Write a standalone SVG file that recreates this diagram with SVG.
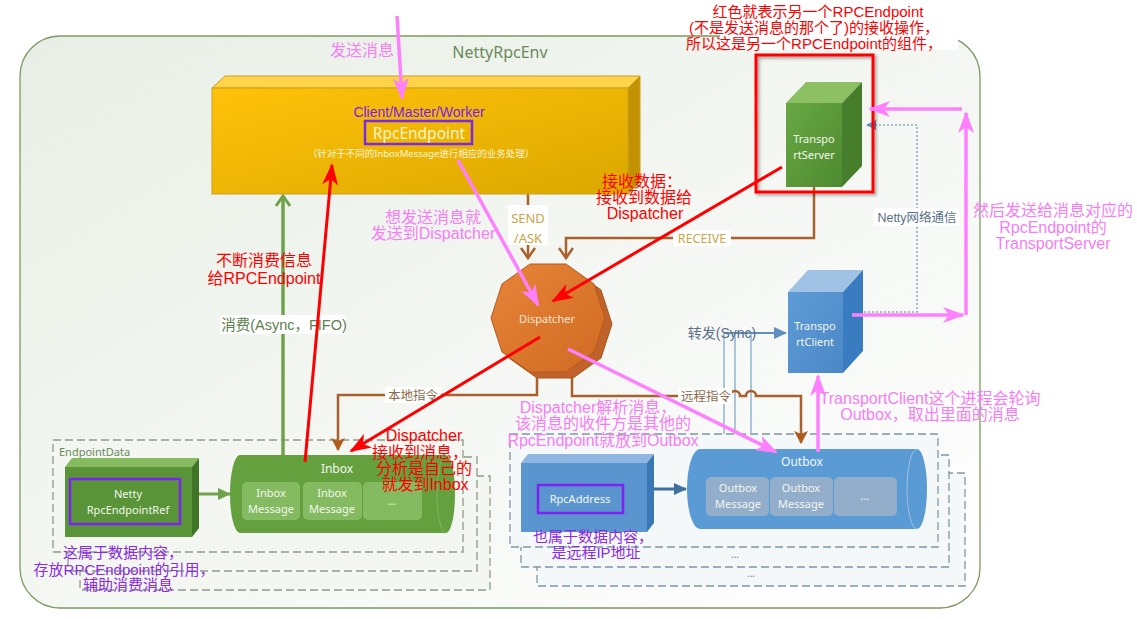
<svg xmlns="http://www.w3.org/2000/svg" width="1137" height="619" viewBox="0 0 1137 619">
<defs>
<linearGradient id="bg" x1="0" y1="0" x2="1" y2="1"><stop offset="0" stop-color="#e8eee5"/><stop offset="1" stop-color="#ffffff"/></linearGradient>
<linearGradient id="yel" x1="0" y1="0" x2="1" y2="1"><stop offset="0" stop-color="#ffc20a"/><stop offset="1" stop-color="#dba800"/></linearGradient>
<linearGradient id="grn" x1="0" y1="0" x2="1" y2="1"><stop offset="0" stop-color="#68a843"/><stop offset="1" stop-color="#4e8a30"/></linearGradient>
<linearGradient id="blu" x1="0" y1="0" x2="1" y2="1"><stop offset="0" stop-color="#5f9bd6"/><stop offset="1" stop-color="#4a88c6"/></linearGradient>
<linearGradient id="org" x1="0" y1="0" x2="1" y2="1"><stop offset="0" stop-color="#e8843a"/><stop offset="1" stop-color="#d06a22"/></linearGradient>
<filter id="sh" x="-10%" y="-10%" width="130%" height="130%"><feDropShadow dx="2" dy="2" stdDeviation="1.5" flood-color="#000" flood-opacity="0.35"/></filter>
<marker id="mPink" markerUnits="userSpaceOnUse" markerWidth="24" markerHeight="16" refX="20" refY="8" orient="auto"><path d="M0,0 L22,8 L0,16 L6,8 Z" fill="#ff80ff"/></marker>
<marker id="mRed" markerUnits="userSpaceOnUse" markerWidth="24" markerHeight="16" refX="20" refY="8" orient="auto"><path d="M0,0 L22,8 L0,16 L6,8 Z" fill="#ff0000"/></marker>
<marker id="mGreenV" markerUnits="userSpaceOnUse" markerWidth="16" markerHeight="16" refX="12" refY="8" orient="auto"><path d="M2,1 L12,8 L2,15" fill="none" stroke="#6ea34c" stroke-width="3"/></marker>
<marker id="mGreen" markerUnits="userSpaceOnUse" markerWidth="14" markerHeight="12" refX="12" refY="6" orient="auto"><path d="M0,0 L13,6 L0,12 Z" fill="#6ea34c"/></marker>
<marker id="mBlue" markerUnits="userSpaceOnUse" markerWidth="14" markerHeight="12" refX="12" refY="6" orient="auto"><path d="M0,0 L13,6 L0,12 Z" fill="#3f6f9e"/></marker>
<marker id="mBlueL" markerUnits="userSpaceOnUse" markerWidth="14" markerHeight="12" refX="12" refY="6" orient="auto"><path d="M0,0 L13,6 L0,12 Z" fill="#5e8fbf"/></marker>
<marker id="mDot" markerUnits="userSpaceOnUse" markerWidth="12" markerHeight="12" refX="10" refY="6" orient="auto"><path d="M0,1 L10,6 L0,11 Z" fill="#5e8fbf"/></marker>
<marker id="mBrV" markerUnits="userSpaceOnUse" markerWidth="16" markerHeight="16" refX="12" refY="8" orient="auto"><path d="M2,1 L12,8 L2,15" fill="none" stroke="#a9602c" stroke-width="2.5"/></marker>
<marker id="mBr" markerUnits="userSpaceOnUse" markerWidth="14" markerHeight="14" refX="12" refY="7" orient="auto"><path d="M0,0 L13,7 L0,14 L3,7 Z" fill="#b05a1e"/></marker>
</defs>
<style>
.lbl{font-family:"Liberation Sans","Noto Sans CJK SC",sans-serif;font-size:16px;text-anchor:middle}
.pink{fill:#f57ef5}
.red{fill:#ff0000}
.pur{fill:#8a2be8;font-size:15px}
.node{font-family:"Noto Sans","Noto Sans CJK SC",sans-serif;text-anchor:middle}
.wt{fill:#f2f7ee;font-size:11px}
.pa{stroke:#ff80ff;stroke-width:3.5;fill:none;marker-end:url(#mPink)}
.ra{stroke:#ff0000;stroke-width:3;fill:none;marker-end:url(#mRed)}
.br{stroke:#a9602c;stroke-width:2.5;fill:none}
.dashG{fill:#f3f6f1;stroke:#8f9c88;stroke-width:1.3;stroke-dasharray:8 4}
.dashB{fill:#f5f8f9;stroke:#7e97a6;stroke-width:1.3;stroke-dasharray:8 4}
.msgG{fill:#90c46c;fill-opacity:0.75}
.msgB{fill:#9eb1c9;fill-opacity:0.85}
</style>

<g id="env">
<rect x="20" y="36" width="960" height="572" rx="40" fill="url(#bg)" stroke="#7c9a62" stroke-width="1.3"/>
<text x="500" y="58" class="node" style="font-size:16px" fill="#6b8a5b">NettyRpcEnv</text>
<rect x="720" y="0" width="238" height="50" fill="#ffffff"/>
</g>

<g id="endpointdata-boxes">
<rect x="80" y="476" width="410" height="114" class="dashG"/>
<rect x="68" y="457" width="409" height="114" class="dashG"/>
<rect x="53" y="440" width="410" height="112" class="dashG"/>
<text x="59" y="456" class="node" style="font-size:11px;text-anchor:start" fill="#6a8a5a">EndpointData</text>
</g>

<g id="outbox-boxes">
<rect x="537" y="473" width="428" height="113" class="dashB"/>
<rect x="521" y="455" width="428" height="112" class="dashB"/>
<rect x="510" y="434" width="428" height="113" class="dashB"/>
<text x="735" y="558" class="node" style="font-size:10px" fill="#6a7f90">...</text>
<text x="751" y="577" class="node" style="font-size:10px" fill="#6a7f90">...</text>
</g>

<g id="connectors">
<path class="br" d="M528,194 V258" marker-end="url(#mBrV)"/>
<path class="br" d="M814,187 V238 H566 V258" marker-end="url(#mBrV)"/>
<path class="br" d="M537,372 V395 H338 V450" marker-end="url(#mBr)"/>
<path d="M724,333 V434 M735,333 V434 M751,333 V434" stroke="#9ab8d4" stroke-width="1.6" fill="none"/>
<path d="M724,333 H786" stroke="#5e8fbf" stroke-width="2" fill="none" marker-end="url(#mBlueL)"/>
<path class="br" d="M572,372 V396 H730 a5,5 0 0 1 10,0 H746 a5,5 0 0 1 10,0 H801 V443" marker-end="url(#mBr)"/>
<path d="M852,312 H917 V125 H866" stroke="#8eaac2" stroke-width="1.6" stroke-dasharray="2 2" fill="none" marker-end="url(#mDot)"/>
<path d="M283,455 V196" stroke="#6ea34c" stroke-width="3.5" fill="none" marker-end="url(#mGreenV)"/>
<path d="M199,494 H230" stroke="#6ea34c" stroke-width="3" fill="none" marker-end="url(#mGreen)"/>
<path d="M654,489 H686" stroke="#3f6f9e" stroke-width="3" fill="none" marker-end="url(#mBlue)"/>
</g>

<g id="conn-labels">
<rect x="508" y="205" width="40" height="40" fill="#ffffff"/>
<text x="528" y="223" class="node" style="font-size:13px" fill="#c9a648">SEND</text>
<text x="528" y="243" class="node" style="font-size:13px" fill="#c9a648">/ASK</text>
<rect x="673" y="230" width="58" height="16" fill="#ffffff"/>
<text x="702" y="243" class="node" style="font-size:12.5px" fill="#c9a648">RECEIVE</text>
<rect x="385" y="387" width="56" height="16" fill="#ffffff"/>
<text x="413" y="400" class="lbl" style="font-size:12.5px" fill="#8a6a4a">本地指令</text>
<rect x="678" y="388" width="54" height="16" fill="#ffffff"/>
<text x="706" y="401" class="lbl" style="font-size:12.5px" fill="#8a6a4a">远程指令</text>
<rect x="874" y="208" width="86" height="18" fill="#ffffff"/>
<text x="917" y="222" class="lbl" style="font-size:12.5px" fill="#5a7088">Netty网络通信</text>
<text x="722" y="338" class="lbl" style="font-size:14px" fill="#5a7088">转发(Sync)</text>
<rect x="220" y="315" width="126" height="19" fill="#ffffff"/>
<text x="284" y="330" class="lbl" style="font-size:14.5px" fill="#5f7f4f">消费(Async，FIFO)</text>
</g>

<g id="rpcendpoint">
<polygon points="212,88 225,76 640,76 628,88" fill="#ffd34a" stroke="#c9a020" stroke-width="1"/>
<polygon points="628,88 640,76 640,182 628,194" fill="#c29200" stroke="#c9a020" stroke-width="1"/>
<rect x="212" y="88" width="416" height="106" fill="url(#yel)" stroke="#c9a020" stroke-width="1"/>
<text x="419" y="117" class="lbl" style="font-size:14px" fill="#7f19e6">Client/Master/Worker</text>
<rect x="365" y="121" width="107" height="23" fill="none" stroke="#7a2be2" stroke-width="2.5"/>
<text x="419" y="139" class="node" style="font-size:15.5px" fill="#fff3c8">RpcEndpoint</text>
<text x="421" y="157" class="node" style="font-size:9.5px" fill="#fff5d8">（针对于不同的InboxMessage进行相应的业务处理）</text>
</g>

<g id="transportserver">
<rect x="756" y="55" width="117" height="137" fill="none" stroke="#ff0000" stroke-width="3" filter="url(#sh)"/>
<polygon points="786,103 806,82 862,82 842,103" fill="#8cc063"/>
<polygon points="842,103 862,82 862,166 842,187" fill="#467e2c"/>
<rect x="786" y="103" width="56" height="84" fill="url(#grn)"/>
<text x="814" y="143" class="node wt">Transpo</text>
<text x="814" y="159" class="node wt">rtServer</text>
</g>

<g id="transportclient">
<polygon points="788,292 808,270 863,270 843,292" fill="#a0c2e4"/>
<polygon points="843,292 863,270 863,351 843,373" fill="#3a7cc0"/>
<rect x="788" y="292" width="55" height="81" fill="url(#blu)"/>
<text x="815" y="330" class="node wt">Transpo</text>
<text x="815" y="346" class="node wt">rtClient</text>
</g>

<g id="dispatcher">
<polygon points="612,324 601,290 573,270 537,270 509,290 498,324 509,358 537,378 573,378 601,358" fill="#c0622a" stroke="#a8551e" stroke-width="1"/>
<polygon points="605,318 594,284 566,264 530,264 502,284 491,318 502,352 530,372 566,372 594,352" fill="url(#org)" stroke="#b8581e" stroke-width="1"/>
<text x="547" y="323" class="node" style="font-size:11px" fill="#fde6d2">Dispatcher</text>
</g>

<g id="endpointref">
<polygon points="65,467 72,458 199,458 192,467" fill="#86ba5e"/>
<polygon points="192,467 199,458 199,528 192,537" fill="#3f7526"/>
<rect x="65" y="467" width="127" height="70" fill="#5a9438"/>
<rect x="70" y="479" width="110" height="45" fill="none" stroke="#7d22f0" stroke-width="2.5"/>
<text x="128" y="498" class="node wt">Netty</text>
<text x="128" y="514" class="node wt">RpcEndpointRef</text>
</g>

<g id="inbox">
<path d="M240,455 H446 A9,39 0 0 1 446,533 H240 A10,39 0 0 1 240,455 Z" fill="#65a03f"/>
<path d="M446,455 A9,39 0 0 0 446,533" fill="none" stroke="#80b35c" stroke-width="1"/>
<text x="337" y="473" class="node" style="font-size:12px" fill="#f4f8f0">Inbox</text>
<rect x="242" y="482" width="58" height="38" rx="5" class="msgG"/>
<rect x="303" y="482" width="59" height="38" rx="5" class="msgG"/>
<rect x="363" y="482" width="59" height="38" rx="5" class="msgG"/>
<text x="271" y="497" class="node wt">Inbox</text>
<text x="271" y="513" class="node wt">Message</text>
<text x="332" y="497" class="node wt">Inbox</text>
<text x="332" y="513" class="node wt">Message</text>
<text x="392" y="505" class="node wt">...</text>
</g>

<g id="rpcaddress">
<polygon points="521,463 528,454 654,454 647,463" fill="#8fb6e0"/>
<polygon points="647,463 654,454 654,523 647,532" fill="#3a77b5"/>
<rect x="521" y="463" width="126" height="69" fill="#5b95d0"/>
<rect x="538" y="485" width="85" height="28" fill="none" stroke="#7d22f0" stroke-width="2.5"/>
<text x="580" y="503" class="node wt">RpcAddress</text>
</g>

<g id="outbox">
<path d="M700,449 H917 A10,40 0 0 1 917,529 H700 A13,40 0 0 1 700,449 Z" fill="#5b9bd5"/>
<path d="M917,449 A10,40 0 0 0 917,529" fill="none" stroke="#9cc2e6" stroke-width="1"/>
<text x="802" y="466" class="node" style="font-size:12px" fill="#f2f7fc">Outbox</text>
<rect x="706" y="477" width="63" height="39" rx="5" class="msgB"/>
<rect x="770" y="477" width="63" height="39" rx="5" class="msgB"/>
<rect x="834" y="477" width="63" height="39" rx="5" class="msgB"/>
<text x="738" y="492" class="node wt">Outbox</text>
<text x="738" y="508" class="node wt">Message</text>
<text x="801" y="492" class="node wt">Outbox</text>
<text x="801" y="508" class="node wt">Message</text>
<text x="865" y="500" class="node wt">...</text>
</g>

<g id="annotation-arrows">
<path class="pa" d="M397,16 L402,98"/>
<path class="pa" d="M458,160 L538,305"/>
<path class="pa" d="M568,349 L776,452"/>
<path class="pa" d="M818,452 V376"/>
<path class="pa" d="M852,315 H963"/>
<path class="pa" d="M966,315 V113"/>
<path class="pa" d="M962,109 H870"/>
<path class="ra" d="M782,167 L553,301"/>
<path class="ra" d="M540,337 L351,451"/>
<path class="ra" d="M305,462 L332,165"/>
</g>

<g id="annotations">
<text class="lbl pink" x="362" y="56">发送消息</text>
<text class="lbl red" style="font-size:15px"><tspan x="818" y="17">红色就表示另一个RPCEndpoint</tspan><tspan x="814" y="33">(不是发送消息的那个了)的接收操作，</tspan><tspan x="814" y="49">所以这是另一个RPCEndpoint的组件，</tspan></text>
<text class="lbl red"><tspan x="642" y="187">接收数据：</tspan><tspan x="644" y="203">接收到数据给</tspan><tspan x="645" y="219">Dispatcher</tspan></text>
<text class="lbl pink"><tspan x="433" y="223">想发送消息就</tspan><tspan x="433" y="239">发送到Dispatcher</tspan></text>
<text class="lbl red"><tspan x="264" y="266">不断消费信息</tspan><tspan x="264" y="284">给RPCEndpoint</tspan></text>
<text class="lbl red"><tspan x="424" y="441">Dispatcher</tspan><tspan x="420" y="458">接收到消息，</tspan><tspan x="424" y="474">分析是自己的</tspan><tspan x="425" y="490">就发到Inbox</tspan></text>
<text class="lbl pink"><tspan x="598" y="413">Dispatcher解析消息，</tspan><tspan x="603" y="429">该消息的收件方是其他的</tspan><tspan x="603" y="446">RpcEndpoint就放到Outbox</tspan></text>
<text class="lbl pink"><tspan x="930" y="404">TransportClient这个进程会轮询</tspan><tspan x="930" y="420">Outbox，取出里面的消息</tspan></text>
<text class="lbl pink"><tspan x="1053" y="216">然后发送给消息对应的</tspan><tspan x="1053" y="233">RpcEndpoint的</tspan><tspan x="1053" y="249">TransportServer</tspan></text>
<text class="lbl pur"><tspan x="123" y="558">这属于数据内容，</tspan><tspan x="124" y="575">存放RPCEndpoint的引用，</tspan><tspan x="128" y="590">辅助消费消息</tspan></text>
<text class="lbl pur"><tspan x="593" y="542">也属于数据内容，</tspan><tspan x="596" y="558">是远程IP地址</tspan></text>
</g>
</svg>
